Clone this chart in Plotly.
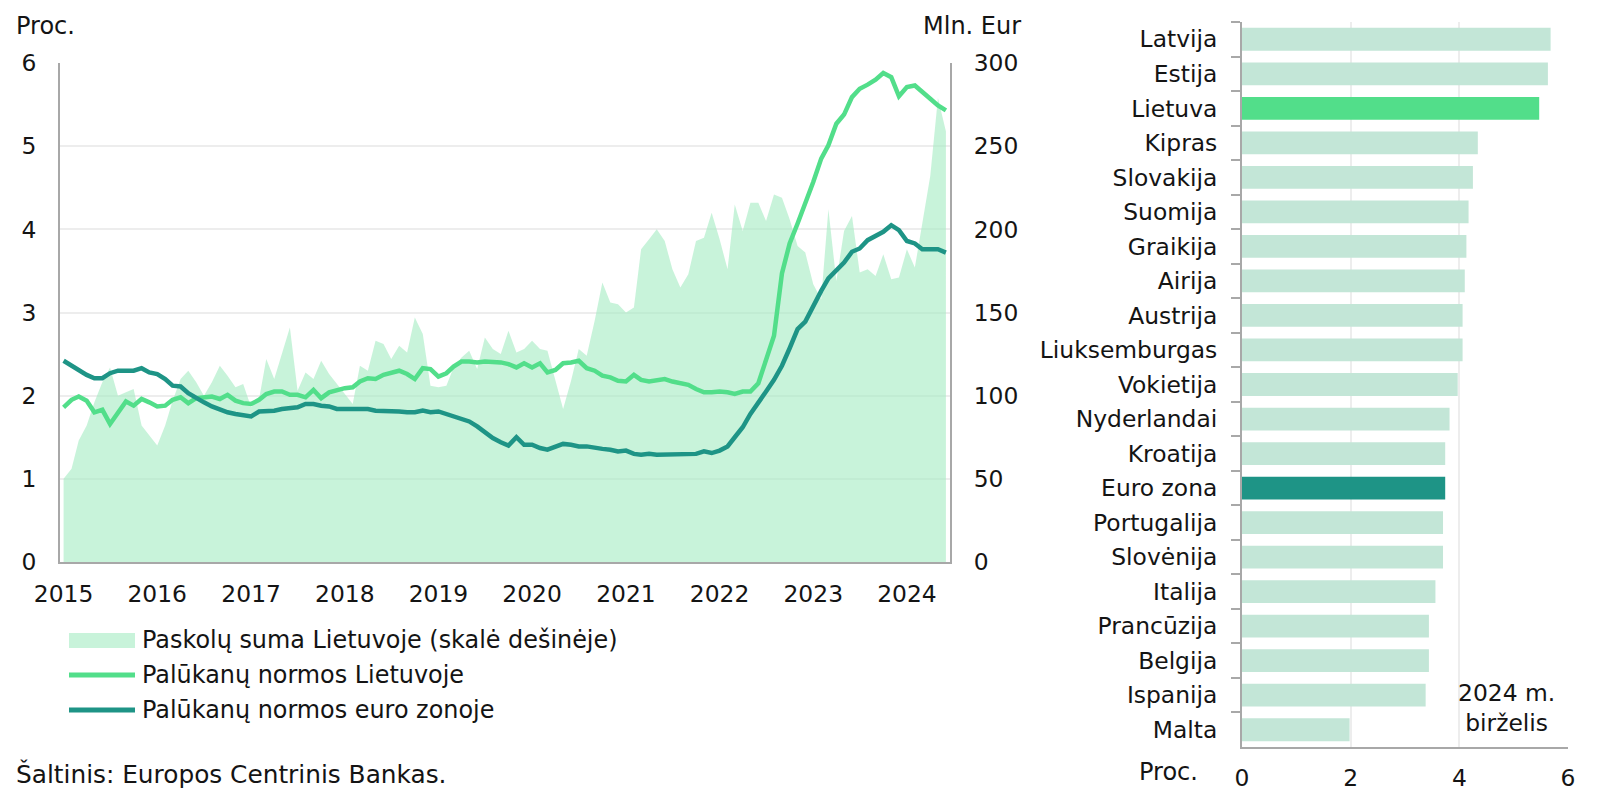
import pandas as pd
import plotly.graph_objects as go

# ---------------- data ----------------
months = pd.date_range("2015-01-01", "2024-06-01", freq="MS")

loans_lt = [  # Paskolų suma Lietuvoje, mln. Eur (right scale)
    50, 56, 73, 82, 96, 108, 117, 100, 102, 104,
    82, 76, 70, 82, 97, 110, 115, 108, 100, 108,
    118, 112, 105, 107, 93, 98, 122, 110, 125, 141,
    103, 114, 110, 121, 113, 107, 101, 95, 118, 115,
    133, 131, 122, 130, 126, 147, 137, 106, 105, 106,
    117, 123, 127, 116, 135, 128, 125, 139, 126, 128,
    133, 128, 127, 109, 92, 109, 128, 124, 145, 168,
    156, 155, 150, 153, 188, 194, 200, 193, 176, 165,
    173, 193, 195, 210, 194, 176, 215, 199, 216, 216,
    205, 221, 219, 206, 190, 186, 167, 158, 212, 169,
    199, 208, 174, 176, 172, 185, 170, 171, 188, 177,
    204, 232, 279, 259,
]

rate_lt = [  # Palūkanų normos Lietuvoje, %
    1.86, 1.95, 1.99, 1.94, 1.80, 1.83, 1.66, 1.79, 1.93, 1.88,
    1.96, 1.92, 1.87, 1.88, 1.95, 1.98, 1.91, 1.97, 1.98, 1.99,
    1.96, 2.01, 1.94, 1.91, 1.90, 1.95, 2.02, 2.05, 2.05, 2.01,
    2.01, 1.98, 2.07, 1.97, 2.04, 2.07, 2.09, 2.10, 2.17, 2.21,
    2.20, 2.25, 2.28, 2.30, 2.26, 2.20, 2.33, 2.32, 2.23, 2.27,
    2.35, 2.41, 2.41, 2.40, 2.41, 2.41, 2.40, 2.38, 2.34, 2.39,
    2.34, 2.39, 2.28, 2.31, 2.39, 2.40, 2.42, 2.33, 2.30, 2.24,
    2.22, 2.18, 2.17, 2.25, 2.19, 2.17, 2.19, 2.20, 2.17, 2.15,
    2.13, 2.08, 2.04, 2.04, 2.05, 2.04, 2.02, 2.05, 2.05, 2.15,
    2.43, 2.72, 3.47, 3.83, 4.07, 4.31, 4.57, 4.85, 5.01, 5.27,
    5.38, 5.59, 5.69, 5.74, 5.80, 5.88, 5.83, 5.60, 5.71, 5.73,
    5.66, 5.57, 5.49, 5.43,
]

rate_ez = [  # Palūkanų normos euro zonoje, %
    2.42, 2.36, 2.30, 2.25, 2.21, 2.21, 2.27, 2.30, 2.30, 2.30,
    2.33, 2.28, 2.26, 2.20, 2.12, 2.11, 2.03, 1.97, 1.92, 1.87,
    1.83, 1.80, 1.78, 1.77, 1.75, 1.81, 1.81, 1.82, 1.84, 1.85,
    1.86, 1.90, 1.90, 1.88, 1.87, 1.84, 1.84, 1.85, 1.85, 1.84,
    1.82, 1.82, 1.81, 1.81, 1.80, 1.80, 1.82, 1.80, 1.81, 1.78,
    1.75, 1.72, 1.69, 1.63, 1.56, 1.49, 1.44, 1.40, 1.50, 1.41,
    1.41, 1.37, 1.35, 1.39, 1.42, 1.41, 1.39, 1.39, 1.37, 1.36,
    1.35, 1.33, 1.34, 1.30, 1.29, 1.30, 1.29, 1.29, 1.29, 1.29,
    1.29, 1.30, 1.33, 1.31, 1.34, 1.39, 1.50, 1.62, 1.78, 1.91,
    2.05, 2.19, 2.36, 2.57, 2.80, 2.89, 3.09, 3.26, 3.41, 3.50,
    3.60, 3.73, 3.77, 3.87, 3.92, 3.97, 4.05, 3.99, 3.86, 3.83,
    3.76, 3.76, 3.76, 3.72,
]

countries = [
    "Latvija", "Estija", "Lietuva", "Kipras", "Slovakija", "Suomija",
    "Graikija", "Airija", "Austrija", "Liuksemburgas", "Vokietija",
    "Nyderlandai", "Kroatija", "Euro zona", "Portugalija", "Slovėnija",
    "Italija", "Prancūzija", "Belgija", "Ispanija", "Malta",
]
rates_2024_06 = [
    5.68, 5.63, 5.47, 4.34, 4.25, 4.17,
    4.13, 4.10, 4.06, 4.06, 3.97,
    3.82, 3.74, 3.74, 3.70, 3.70,
    3.56, 3.44, 3.44, 3.38, 1.98,
]

year_ticks = ["2015", "2016", "2017", "2018", "2019", "2020", "2021", "2022", "2023", "2024"]

# ---------------- style ----------------
OFF = 8                      # page body margin of the html page
W, H = 1600 - OFF, 806 - OFF
FONT = "DejaVu Sans"
FS = 23.4
TXT = "#141414"
AXC = "#a8a8a8"
GRID = "#ededed"
C_AREA = "#c8f3da"
C_LT = "#52de8a"
C_EZ = "#1e9486"
C_BAR = "#c3e6d7"


def px_x(v):
    return (v - OFF) / W


def px_y(v):
    return 1 - (v - OFF) / H


bar_colors = [C_LT if c == "Lietuva" else C_EZ if c == "Euro zona" else C_BAR for c in countries]

fig = go.Figure()

fig.add_trace(go.Scatter(
    x=months, y=loans_lt, xaxis="x", yaxis="y", mode="lines",
    fill="tozeroy", fillcolor="rgba(163,235,193,0.6)",
    line=dict(width=0, color=C_AREA),
    name="Paskolų suma Lietuvoje (skalė dešinėje)", showlegend=False,
))
fig.add_trace(go.Scatter(
    x=months, y=rate_lt, xaxis="x", yaxis="y2", mode="lines",
    line=dict(color=C_LT, width=4.5),
    name="Palūkanų normos Lietuvoje", showlegend=False,
))
fig.add_trace(go.Scatter(
    x=months, y=rate_ez, xaxis="x", yaxis="y2", mode="lines",
    line=dict(color=C_EZ, width=4.5),
    name="Palūkanų normos euro zonoje", showlegend=False,
))
fig.add_trace(go.Bar(
    x=rates_2024_06, y=countries, orientation="h", xaxis="x3", yaxis="y3",
    marker=dict(color=bar_colors, line=dict(width=0)), showlegend=False,
))

tick_font = dict(family=FONT, size=FS, color=TXT)
ydom = [px_y(562), px_y(63)]

fig.update_layout(
    width=W, height=H,
    margin=dict(l=0, r=0, t=0, b=0),
    paper_bgcolor="white", plot_bgcolor="white",
    font=dict(family=FONT, size=FS, color=TXT),
    bargap=0.34,
    xaxis=dict(
        domain=[px_x(60), px_x(950)], anchor="y", type="date",
        range=["2014-12-18", "2024-06-17"],
        tickvals=[f"{y}-01-01" for y in year_ticks], ticktext=year_ticks,
        showgrid=False, zeroline=False, showline=True, linecolor=AXC, linewidth=2,
        ticks="", ticklabelstandoff=10, tickfont=tick_font, automargin=False,
    ),
    yaxis=dict(
        domain=ydom, anchor="x", side="right", range=[0, 300], dtick=50,
        showgrid=True, gridcolor=GRID, gridwidth=1.5, zeroline=False,
        showline=True, linecolor=AXC, linewidth=2,
        ticks="", ticklabelstandoff=17, tickfont=tick_font, automargin=False,
    ),
    yaxis2=dict(
        domain=ydom, anchor="x", overlaying="y", side="left", range=[0, 6], dtick=1,
        showgrid=False, zeroline=False, showline=True, linecolor=AXC, linewidth=2,
        ticks="", ticklabelstandoff=17, tickfont=tick_font, automargin=False,
    ),
    xaxis3=dict(
        domain=[px_x(1242), px_x(1568)], anchor="y3", range=[0, 6], dtick=2,
        showgrid=True, gridcolor=GRID, gridwidth=1.5, zeroline=False,
        showline=True, linecolor=AXC, linewidth=2,
        ticks="", ticklabelstandoff=9, tickfont=tick_font, automargin=False,
    ),
    yaxis3=dict(
        domain=[px_y(747), px_y(22)], anchor="x3", type="category",
        autorange="reversed", showgrid=False, zeroline=False,
        showline=True, linecolor=AXC, linewidth=2,
        ticks="outside", tickson="boundaries", ticklen=9, tickwidth=2, tickcolor=AXC,
        ticklabelstandoff=18, tickfont=tick_font, automargin=False,
    ),
)

ann = []


def text(x, y, s, xanchor="left", align="left", size=FS):
    ann.append(dict(x=px_x(x), y=px_y(y), xref="paper", yref="paper", text=s,
                    showarrow=False, xanchor=xanchor, yanchor="middle", align=align,
                    font=dict(family=FONT, size=size, color=TXT)))


text(14, 26, "Proc.", size=24)
text(1023, 26, "Mln. Eur", xanchor="right", size=24)
text(1200, 772, "Proc.", xanchor="right", size=24)
text(1506, 708, "2024 m.<br>birželis", xanchor="center", align="center")
text(14, 774, "Šaltinis: Europos Centrinis Bankas.", size=24.8)

# legend (drawn manually to match swatch sizes)
legend_items = [
    ("Paskolų suma Lietuvoje (skalė dešinėje)", 640),
    ("Palūkanų normos Lietuvoje", 675),
    ("Palūkanų normos euro zonoje", 710),
]
for s, y in legend_items:
    text(140, y, s, size=23.9)

shapes = [
    dict(type="rect", xref="paper", yref="paper", x0=px_x(69), x1=px_x(135),
         y0=px_y(648), y1=px_y(633), fillcolor=C_AREA, line=dict(width=0)),
    dict(type="line", xref="paper", yref="paper", x0=px_x(69), x1=px_x(135),
         y0=px_y(675), y1=px_y(675), line=dict(color=C_LT, width=5)),
    dict(type="line", xref="paper", yref="paper", x0=px_x(69), x1=px_x(135),
         y0=px_y(710), y1=px_y(710), line=dict(color=C_EZ, width=5)),
]

fig.update_layout(annotations=ann, shapes=shapes)

fig.write_html("out.html")
